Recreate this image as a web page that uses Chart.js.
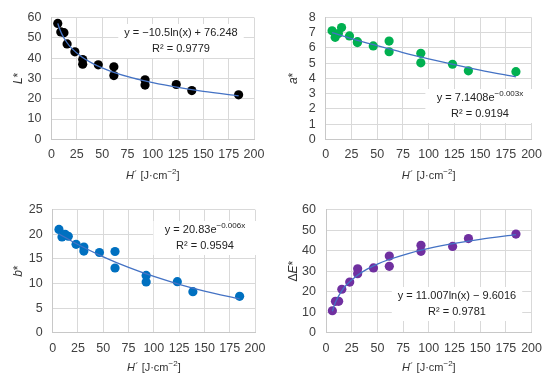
<!DOCTYPE html>
<html lang="en">
<head>
<meta charset="UTF-8">
<title>Colour change vs radiant exposure</title>
<script src="https://cdn.jsdelivr.net/npm/chart.js@4.4.0/dist/chart.umd.min.js"></script>
<style>
  body { margin: 0; background: #ffffff; }
  .wrap { position: relative; width: 550px; height: 384px; }
  canvas { position: absolute; }
</style>
</head>
<body>
<div class="wrap">
  <canvas id="c1" width="275" height="192" style="left:0;top:0"></canvas>
  <canvas id="c2" width="275" height="192" style="left:275px;top:0"></canvas>
  <canvas id="c3" width="275" height="192" style="left:0;top:192px"></canvas>
  <canvas id="c4" width="275" height="192" style="left:275px;top:192px"></canvas>
</div>
<script>
// radiant exposure H' [J/cm2], same for every panel
const hValues = [6.2, 9.2, 12.3, 15.4, 23.1, 30.8, 30.8, 46.2, 61.6, 61.6, 92.4, 92.4, 123.2, 138.6, 184.8];

// measured values
const lStar  = [57.1, 52.9, 52.5, 47.0, 43.1, 39.3, 37.0, 36.7, 35.7, 31.4, 29.3, 26.7, 27.0, 24.0, 21.9];
const aStar  = [7.13, 6.70, 6.95, 7.34, 6.79, 6.41, 6.35, 6.13, 6.45, 5.75, 5.65, 5.02, 4.93, 4.50, 4.44];
const bStar  = [21.0, 19.45, 20.0, 19.6, 17.97, 17.4, 16.6, 16.3, 16.5, 13.15, 11.65, 10.3, 10.37, 8.33, 7.4];
const deltaE = [10.7, 15.3, 15.3, 21.2, 24.7, 31.2, 28.8, 31.6, 37.4, 32.4, 42.6, 39.7, 42.1, 45.9, 48.1];

// trendline points
const logTrendX = [6.2, 8, 10, 15, 20, 30, 40, 50, 60, 80, 100, 125, 150, 184.8];
const lTrend    = [57.09, 54.41, 52.07, 47.81, 44.79, 40.54, 37.51, 35.17, 33.26, 30.23, 27.89, 25.55, 23.64, 21.45];
const eTrend    = [10.48, 13.29, 15.74, 20.21, 23.37, 27.83, 31.00, 33.46, 35.46, 38.63, 41.09, 43.54, 45.55, 47.85];
const expTrendX = [6.2, 25, 50, 75, 100, 125, 150, 184.8];
const aTrend    = [7.01, 6.62, 6.15, 5.70, 5.29, 4.91, 4.55, 4.10];
const bTrend    = [20.07, 17.93, 15.43, 13.28, 11.43, 9.84, 8.47, 6.87];

// axis ranges: min, max, step
const xTicks = [0, 200, 25];
const lTicks = [0, 60, 10];
const aTicks = [0, 8, 1];
const bTicks = [0, 25, 5];
const eTicks = [0, 60, 10];

const FONT = '"Liberation Sans", Arial, sans-serif';
Chart.defaults.font.family = FONT;
Chart.defaults.color = '#404040';

function toPoints(xs, ys) {
  return xs.map((x, i) => ({ x: x, y: ys[i] }));
}

// draw a run of text pieces (italic / superscript) centred on cx
function drawRich(ctx, parts, cx, cy, size) {
  const fontOf = p => (p.i ? 'italic ' : '') + (p.sup ? Math.round(size * 0.72) : size) + 'px ' + FONT;
  let total = 0;
  parts.forEach(p => { ctx.font = fontOf(p); total += ctx.measureText(p.t).width; });
  let x = cx - total / 2;
  ctx.textAlign = 'left';
  ctx.textBaseline = 'middle';
  parts.forEach(p => {
    ctx.font = fontOf(p);
    ctx.fillText(p.t, x, p.sup ? cy - size * 0.38 : cy);
    x += ctx.measureText(p.t).width;
  });
  return total;
}

function makePanel(p) {
  const overlay = {
    id: 'overlay' + p.id,
    afterDatasetsDraw(chart) {
      const ctx = chart.ctx;
      const a = chart.chartArea;
      ctx.save();
      // equation box
      ctx.font = '11px ' + FONT;
      const w1 = ctx.measureText(p.eq.map(q => q.t).join('')).width + 6;
      ctx.fillStyle = '#ffffff';
      ctx.fillRect(p.eqX - w1 / 2 - 3, p.eqY - 9, w1 + 6, 34);
      ctx.fillStyle = '#222222';
      drawRich(ctx, p.eq, p.eqX, p.eqY, 11);
      drawRich(ctx, [{ t: p.r2 }], p.eqX, p.eqY + 16, 11);
      // x title
      ctx.fillStyle = '#333333';
      drawRich(ctx, [{ t: 'H', i: true }, { t: '´ [J·cm' }, { t: '−2', sup: true }, { t: ']' }],
        (a.left + a.right) / 2, 176, 11);
      // y title
      ctx.translate(19, (a.top + a.bottom) / 2);
      ctx.rotate(-Math.PI / 2);
      drawRich(ctx, p.yTitle, 0, 0, 12);
      ctx.restore();
    }
  };

  new Chart(document.getElementById(p.id), {
    type: 'scatter',
    data: {
      datasets: [
        {
          type: 'line',
          data: toPoints(p.trendX, p.trendY),
          borderColor: '#4472C4',
          borderWidth: 1.3,
          pointRadius: 0,
          fill: false,
          cubicInterpolationMode: 'monotone'
        },
        {
          data: toPoints(hValues, p.y),
          backgroundColor: p.color,
          borderWidth: 0,
          pointRadius: 4.6
        }
      ]
    },
    options: {
      responsive: false,
      animation: false,
      layout: { padding: { left: 0, top: p.area.t, right: 275 - p.area.r, bottom: 0 } },
      plugins: { legend: { display: false }, tooltip: { enabled: false } },
      scales: {
        x: {
          type: 'linear',
          min: xTicks[0], max: xTicks[1],
          ticks: { stepSize: xTicks[2], padding: 8, font: { size: 12.5 }, color: '#404040',
                   maxRotation: 0, minRotation: 0, autoSkip: false },
          grid: { color: '#d9d9d9', drawTicks: false },
          border: { color: '#c8c8c8' },
          afterFit: s => { s.height = 192 - p.area.b; }
        },
        y: {
          min: p.ticks[0], max: p.ticks[1],
          ticks: { stepSize: p.ticks[2], padding: 10, font: { size: 12.5 }, color: '#404040',
                   autoSkip: false },
          grid: { color: '#d9d9d9', drawTicks: false },
          border: { color: '#c8c8c8' },
          afterFit: s => { s.width = p.area.l; }
        }
      }
    },
    plugins: [overlay]
  });
}

makePanel({
  id: 'c1', y: lStar, trendX: logTrendX, trendY: lTrend, color: '#000000', ticks: lTicks,
  yTitle: [{ t: 'L', i: true }, { t: '*' }],
  eq: [{ t: 'y = −10.5ln(x) + 76.248' }], r2: 'R² = 0.9779', eqX: 181, eqY: 33,
  area: { l: 51.5, t: 13.3, r: 254, b: 139.3 }
});
makePanel({
  id: 'c2', y: aStar, trendX: expTrendX, trendY: aTrend, color: '#00B050', ticks: aTicks,
  yTitle: [{ t: 'a', i: true }, { t: '*' }],
  eq: [{ t: 'y = 7.1408e' }, { t: '−0.003x', sup: true }], r2: 'R² = 0.9194', eqX: 205, eqY: 98,
  area: { l: 50.7, t: 13.3, r: 257.3, b: 139.3 }
});
makePanel({
  id: 'c3', y: bStar, trendX: expTrendX, trendY: bTrend, color: '#0070C0', ticks: bTicks,
  yTitle: [{ t: 'b', i: true }, { t: '*' }],
  eq: [{ t: 'y = 20.83e' }, { t: '−0.006x', sup: true }], r2: 'R² = 0.9594', eqX: 205, eqY: 38,
  area: { l: 52.7, t: 17.7, r: 255, b: 140.7 }
});
makePanel({
  id: 'c4', y: deltaE, trendX: logTrendX, trendY: eTrend, color: '#7030A0', ticks: eTicks,
  yTitle: [{ t: 'Δ' }, { t: 'E', i: true }, { t: '*' }],
  eq: [{ t: 'y = 11.007ln(x) − 9.6016' }], r2: 'R² = 0.9781', eqX: 182, eqY: 104,
  area: { l: 51, t: 17.7, r: 258.3, b: 140.7 }
});
</script>
</body>
</html>
